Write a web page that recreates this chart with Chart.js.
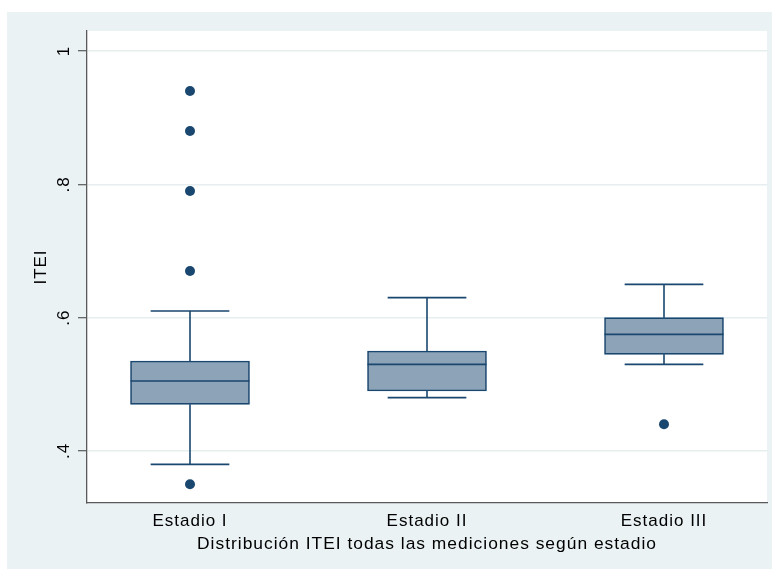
<!DOCTYPE html>
<html>
<head>
<meta charset="utf-8">
<script src="https://cdn.jsdelivr.net/npm/chart.js@4/dist/chart.umd.min.js"></script>
<style>
  html, body { margin: 0; padding: 0; background: #ffffff; }
  canvas { display: block; }
</style>
</head>
<body>
<canvas id="chart" width="772" height="569"></canvas>
<script>
// Box plot summaries per stage
const categories = ['Estadio I', 'Estadio II', 'Estadio III'];
const lowerWhisker = [0.38, 0.48, 0.53];
const q1 = [0.47, 0.49, 0.545];
const median = [0.505, 0.53, 0.575];
const q3 = [0.535, 0.55, 0.60];
const upperWhisker = [0.61, 0.63, 0.65];
const outliers = [[0.35, 0.67, 0.79, 0.88, 0.94], [], [0.44]];

const yTickValues = [0.4, 0.6, 0.8, 1];
const yTickLabels = ['.4', '.6', '.8', '1'];
const yTitle = 'ITEI';
const xTitle = 'Distribución ITEI todas las mediciones según estadio';

// Styling
const NAVY = '#1a476f';
const BOX_FILL = '#8da3b7';
const BG = '#eaf2f3';
const GRID = '#e6eef0';
const AXIS = '#5a5a5a';
const FONT_FAMILY = "'Liberation Sans', Arial, sans-serif";
const FONT = { family: FONT_FAMILY, size: 17 };
const TITLE_FONT = { family: FONT_FAMILY, size: 17.4 };
const SPACING = '1px';
const BOX_HALF = 0.251;   // half box width in x units
const CAP_HALF = 0.166;   // half whisker-cap width in x units
const LINE_W = 1.6;

const positions = categories.map((_, i) => i + 1);

const boxData = positions.map((x, i) => ({ x, y: [q1[i], q3[i]] }));

// Medians, whiskers and caps as line segments separated by gaps
const segments = [];
function seg(x1, y1, x2, y2) {
  segments.push({ x: x1, y: y1 }, { x: x2, y: y2 }, { x: x2, y: null });
}
positions.forEach((x, i) => {
  seg(x - BOX_HALF, median[i], x + BOX_HALF, median[i]);
  seg(x, q3[i], x, upperWhisker[i]);
  seg(x, q1[i], x, lowerWhisker[i]);
  seg(x - CAP_HALF, upperWhisker[i], x + CAP_HALF, upperWhisker[i]);
  seg(x - CAP_HALF, lowerWhisker[i], x + CAP_HALF, lowerWhisker[i]);
});

const outlierPoints = [];
positions.forEach((x, i) => outliers[i].forEach(v => outlierPoints.push({ x, y: v })));

const framePlugin = {
  id: 'frame',
  beforeDraw(chart) {
    const { ctx, chartArea: a } = chart;
    ctx.save();
    ctx.fillStyle = BG;
    ctx.fillRect(7, 12, chart.width - 7, chart.height - 12);
    ctx.fillStyle = '#ffffff';
    ctx.fillRect(a.left, a.top, a.right - a.left, a.bottom - a.top);
    ctx.restore();
    ctx.letterSpacing = SPACING;
  },
  afterDraw(chart) {
    // Vertical y tick labels
    const { ctx } = chart;
    const s = chart.scales.y;
    ctx.save();
    ctx.font = `${FONT.size}px ${FONT_FAMILY}`;
    ctx.fillStyle = '#000000';
    ctx.textAlign = 'center';
    ctx.textBaseline = 'middle';
    ctx.letterSpacing = SPACING;
    yTickValues.forEach((v, i) => {
      const y = s.getPixelForValue(v);
      ctx.save();
      ctx.translate(s.right - 23, y);
      ctx.rotate(-Math.PI / 2);
      ctx.fillText(yTickLabels[i], 0, 0);
      ctx.restore();
    });
    ctx.restore();
  }
};

new Chart(document.getElementById('chart').getContext('2d'), {
  type: 'bar',
  data: {
    datasets: [
      {
        type: 'bar',
        data: boxData,
        backgroundColor: BOX_FILL,
        borderColor: NAVY,
        borderWidth: LINE_W,
        borderSkipped: false,
        barThickness: 119,
        order: 3
      },
      {
        type: 'line',
        data: segments,
        borderColor: NAVY,
        borderWidth: LINE_W,
        pointRadius: 0,
        spanGaps: false,
        fill: false,
        tension: 0,
        order: 2
      },
      {
        type: 'scatter',
        data: outlierPoints,
        backgroundColor: NAVY,
        borderWidth: 0,
        pointRadius: 5,
        order: 1
      }
    ]
  },
  options: {
    responsive: false,
    animation: false,
    devicePixelRatio: 1,
    events: [],
    layout: { padding: { left: 7, top: 31, right: 4, bottom: 0 } },
    plugins: { legend: { display: false }, tooltip: { enabled: false } },
    scales: {
      x: {
        type: 'linear',
        min: 0.5654,
        max: 3.4346,
        offset: false,
        afterBuildTicks: s => { s.ticks = positions.map(v => ({ value: v })); },
        afterFit: s => { s.height = 66; },
        grid: { display: false, drawTicks: false },
        border: { display: true, color: AXIS, width: 1.3 },
        ticks: {
          padding: 8,
          font: FONT,
          color: '#000000',
          autoSkip: false,
          maxRotation: 0,
          callback: v => categories[Math.round(v) - 1]
        },
        title: {
          display: true,
          text: xTitle,
          font: TITLE_FONT,
          color: '#000000',
          padding: { top: 0, bottom: 14.5 }
        }
      },
      y: {
        type: 'linear',
        min: 0.322,
        max: 1.03,
        beginAtZero: false,
        afterBuildTicks: s => { s.ticks = yTickValues.map(v => ({ value: v })); },
        afterFit: s => { s.width = 80; },
        grid: {
          color: GRID,
          lineWidth: 1.4,
          drawTicks: true,
          tickLength: 9,
          tickColor: AXIS,
          tickWidth: 1.2
        },
        border: { display: true, color: AXIS, width: 1.3 },
        ticks: { display: false },
        title: {
          display: true,
          text: yTitle,
          font: FONT,
          color: '#000000',
          padding: { top: 24, bottom: 0 }
        }
      }
    }
  },
  plugins: [framePlugin]
});
</script>
</body>
</html>
